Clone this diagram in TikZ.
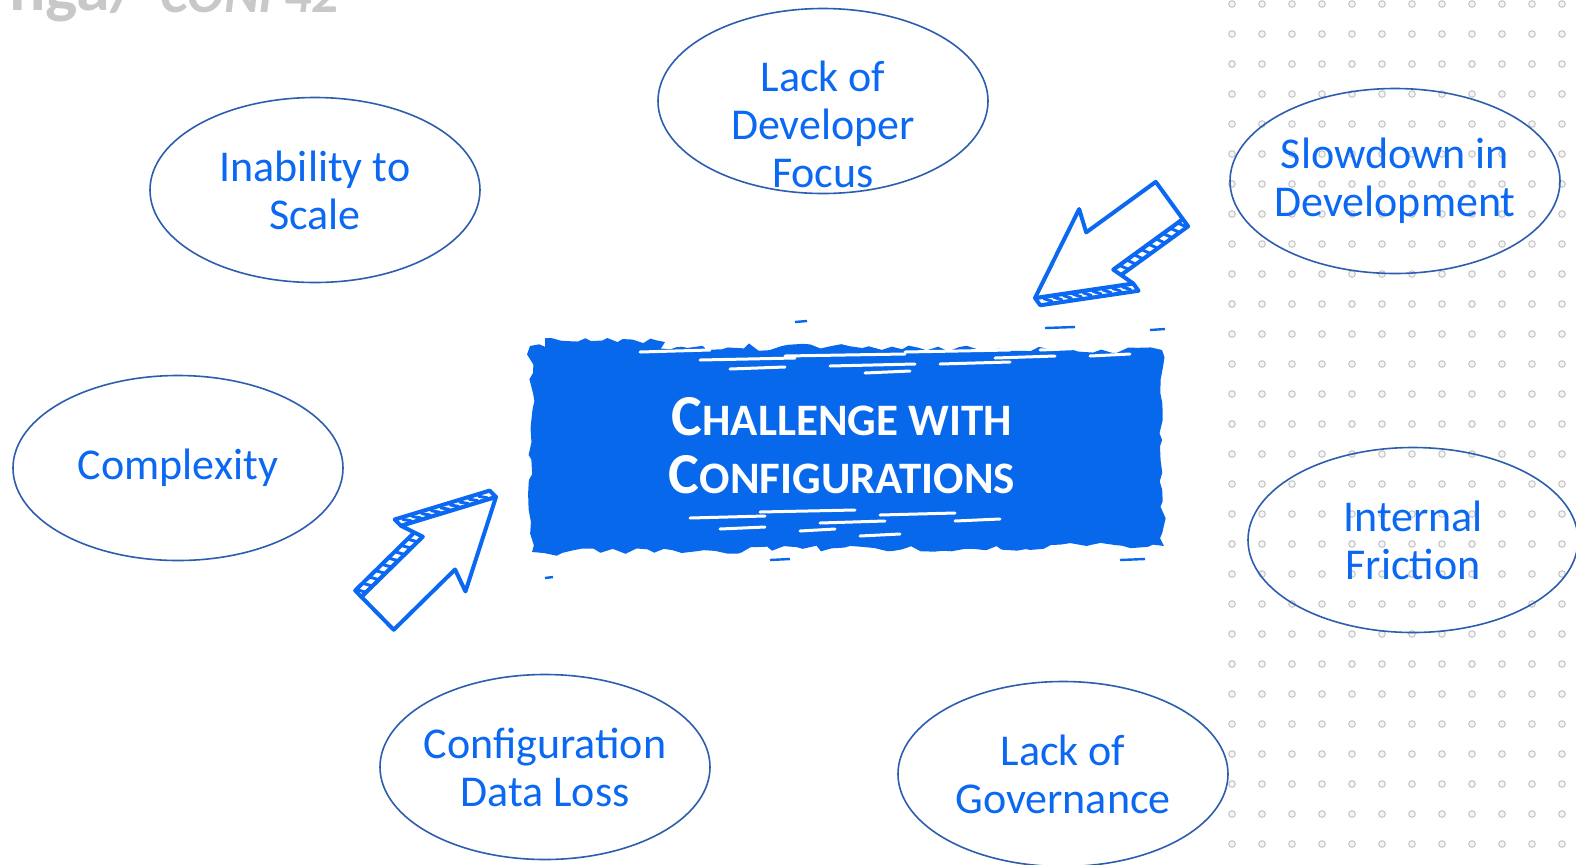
\documentclass[tikz,border=0pt]{standalone}
\usepackage{fontspec}
\setmainfont{Carlito}
\usetikzlibrary{shapes.geometric, decorations.pathmorphing}
\definecolor{inkblue}{HTML}{0A68F2}
\definecolor{rimblue}{HTML}{2C5DAE}
\definecolor{brushblue}{HTML}{0868EC}
\definecolor{dotgray}{HTML}{C4C4C4}
\definecolor{markgray}{HTML}{C8C8C8}
\tikzstyle{bubble} = [ellipse, draw=rimblue, line width=0.8pt, minimum width=165pt, minimum height=92.5pt, inner sep=0pt]
\tikzstyle{bubtext} = [align=center, text=inkblue, font=\fontsize{22}{24}\selectfont]
\tikzstyle{brushtext} = [align=center, text=white, font=\bfseries\fontsize{22.5}{29}\selectfont]
\tikzstyle{arrowline} = [draw=inkblue, line width=2pt, line join=round, fill=white]
\tikzstyle{hatch} = [draw=inkblue, line width=1.5pt, line cap=round]
\tikzstyle{griddot} = [draw=dotgray, fill=gray!8, line width=0.5pt]
\tikzstyle{streak} = [draw=white, line width=1.5pt, line cap=round]
\tikzstyle{wmark} = [text=markgray, inner sep=0pt, font=\bfseries\fontsize{34}{34}\selectfont]
\newcommand\initcap[1]{{\fontsize{29}{29}\selectfont #1}}
% sketchy block arrow: tip coordinate, direction
\newcommand\sketcharrow[2]{%
  \begin{scope}[shift={(#1)}, x=0.5pt, y=0.5pt, rotate=#2]
    \draw[arrowline] (0,0) -- (-88,46) -- (-88,55) -- (0,9) -- cycle;
    \draw[arrowline] (-80,23) -- (-166,23) -- (-166,32) -- (-80,32) -- cycle;
    \foreach \t in {0.1,0.2,...,0.95}
      \draw[hatch] ({-88*\t+2},{46*\t+1}) -- ({-88*\t-3},{46*\t+8});
    \foreach \u in {-88,-97,...,-162}
      \draw[hatch] (\u,24) -- ({\u-4},31);
    \draw[arrowline] (0,0) -- (-88,46) -- (-80,23) -- (-166,23) -- (-166,-23) -- (-80,-23) -- (-88,-46) -- cycle;
  \end{scope}}

\begin{document}
\begin{tikzpicture}[x=0.5pt, y=-0.5pt]
\useasboundingbox (0,0) rectangle (1576,864);
\clip (0,0) rectangle (1576,864);

% dotted paper on the right
\foreach \i in {0,...,11}
  \foreach \j in {0,...,28}
    \draw[griddot] ({1232+30*\i},{4+30*\j}) circle (3.3);

% watermark, cut by the top edge
\node[wmark, anchor=base east] (wmleft) at (140,10) {nga/};
\node[wmark, anchor=base west, font=\bfseries\itshape\fontsize{27}{27}\selectfont] (wmright) at (160,12) {CONF42};

% brush stroke in the middle
\fill[brushblue, decorate, decoration={random steps, segment length=5pt, amplitude=2pt}]
  (530,346) -- (1162,350) -- (1164,546) -- (532,552) -- cycle;
\fill[brushblue, decorate, decoration={random steps, segment length=4pt, amplitude=1.5pt}]
  (545,338) -- (665,342) -- (660,350) -- (545,350) -- cycle;
\foreach \sx/\sy/\sl in {640/352/70, 700/360/95, 785/356/120, 830/366/85, 905/352/105, 995/358/60,
    730/369/55, 865/373/45, 665/346/40, 940/364/70, 1040/350/50, 1090/356/40,
    690/518/75, 760/512/95, 820/523/65, 880/515/75, 720/529/45, 955/521/45, 800/531/35, 860/536/40}
  \draw[streak] (\sx,\sy) -- ++(\sl,-2);
\foreach \sx/\sy/\sl in {795/322/12, 1045/328/30, 1150/330/15, 770/560/20, 1120/560/25, 545/578/8}
  \draw[brushblue, line width=1.2pt] (\sx,\sy) -- ++(\sl,-1);
\node[brushtext] (challenge) at (842,446) {\initcap{C}HALLENGE WITH\\\initcap{C}ONFIGURATIONS};

% problem bubbles
\node[bubble] (scale) at (315,190) {};
\node[bubtext] (scale-t) at (scale) {Inability to\\Scale};
\node[bubble] (focus) at (823,101) {};
\node[bubtext] (focus-t) at (823,124) {Lack of\\Developer\\Focus};
\node[bubble] (slowdown) at (1395,181) {};
\node[bubtext] (slowdown-t) at (slowdown) {Slowdown in\\Development};
\node[bubble] (complexity) at (178,468) {};
\node[bubtext] (complexity-t) at (complexity) {Complexity};
\node[bubble] (friction) at (1413,540) {};
\node[bubtext] (friction-t) at (friction) {Internal\\Friction};
\node[bubble] (dataloss) at (545,767) {};
\node[bubtext] (dataloss-t) at (dataloss) {Configuration\\Data Loss};
\node[bubble] (governance) at (1063,774) {};
\node[bubtext] (governance-t) at (governance) {Lack of\\Governance};

% arrows pointing at the challenge
\coordinate (tipA) at (1035,298);
\coordinate (tipB) at (496,497);
\sketcharrow{tipA}{216}
\sketcharrow{tipB}{44.5}
\end{tikzpicture}
\end{document}
